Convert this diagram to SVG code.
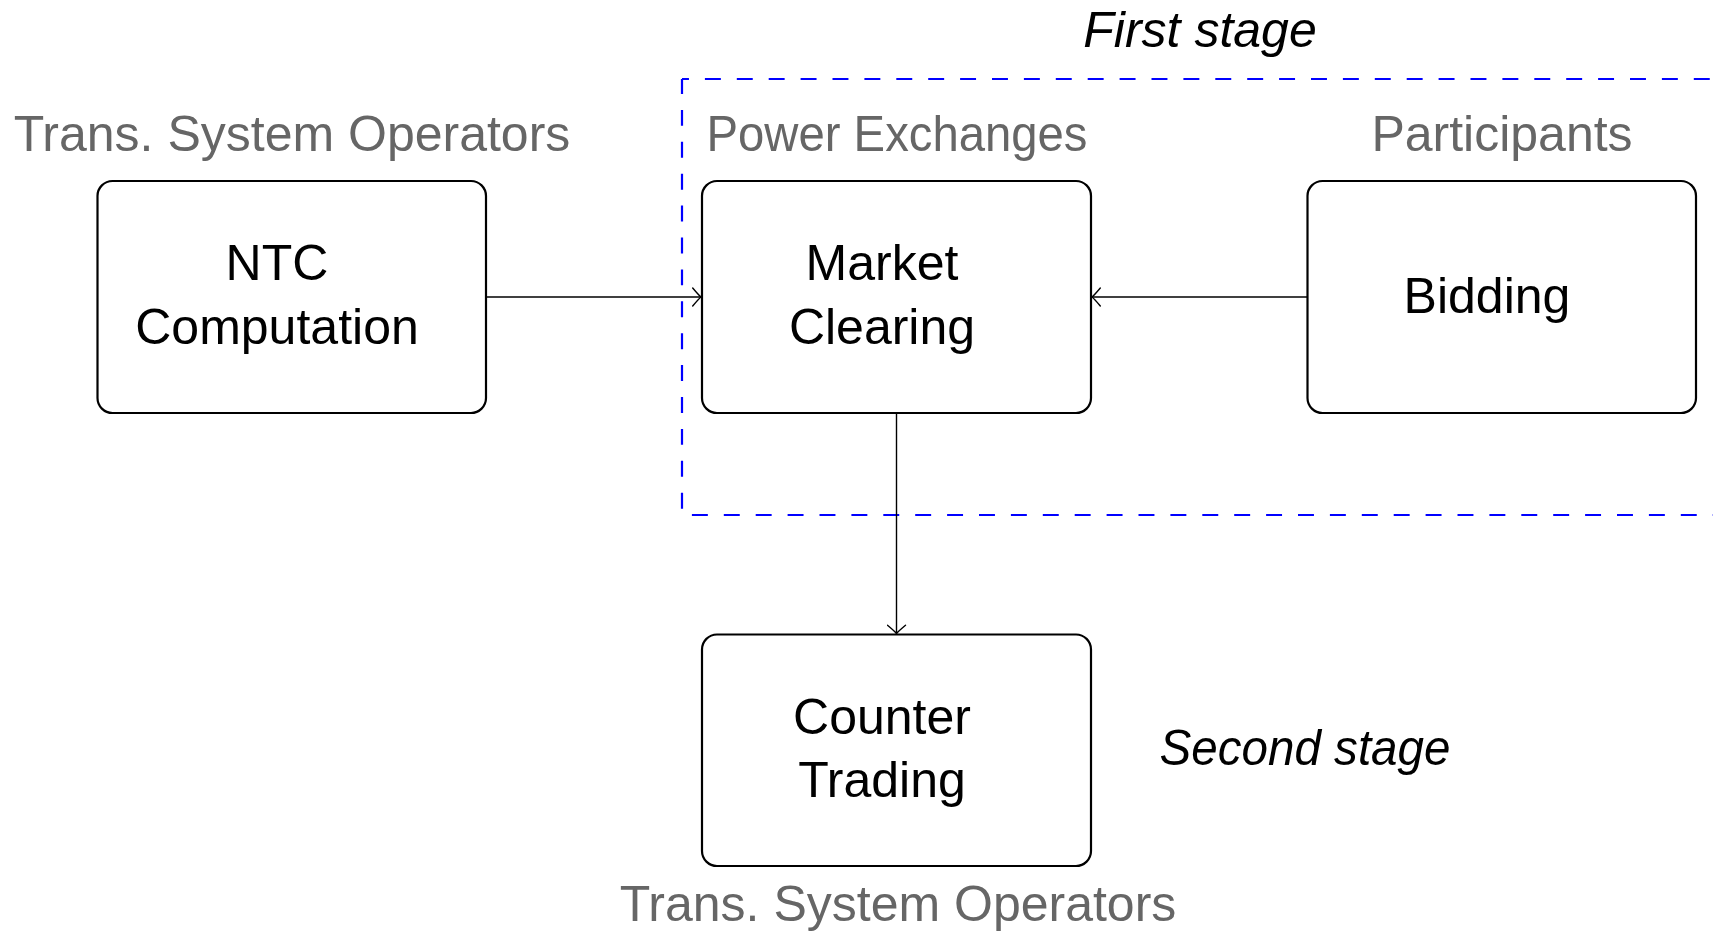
<svg xmlns="http://www.w3.org/2000/svg" width="1713" height="936" viewBox="0 0 1713 936">
  <style>
    .box { fill: #ffffff; stroke: #000000; stroke-width: 2.2; }
    .lbl { font-family: "Liberation Sans", Arial, sans-serif; font-size: 50px; fill: #000000; text-anchor: middle; }
    .role { font-family: "Liberation Sans", Arial, sans-serif; font-size: 50px; fill: #666666; text-anchor: middle; }
    .stage { font-family: "Liberation Sans", Arial, sans-serif; font-size: 50px; font-style: italic; fill: #000000; text-anchor: middle; }
    .edge { fill: none; stroke: #000000; stroke-width: 1.4; }
    .frame { fill: none; stroke: #0000ff; stroke-width: 2.2; stroke-dasharray: 15.95 15.95; }
  </style>
  <defs>
    <marker id="to" viewBox="-10 -10 12 20" refX="0" refY="0" markerWidth="12" markerHeight="20" markerUnits="userSpaceOnUse" orient="auto">
      <path d="M -8.3 -9 Q -2 -1.5 0 0 Q -2 1.5 -8.3 9" fill="none" stroke="#000000" stroke-width="1.4" stroke-linecap="round"/>
    </marker>
  </defs>

  <rect width="1713" height="936" fill="#ffffff"/>

  <!-- first stage frame (runs off the right edge) -->
  <g id="first-stage">
    <line class="frame" x1="682" y1="79" x2="1713" y2="79" stroke-dashoffset="9"/>
    <line class="frame" x1="682" y1="79" x2="682" y2="515" stroke-dashoffset="1"/>
    <line class="frame" x1="682" y1="515" x2="1713" y2="515" stroke-dashoffset="22"/>
    <text class="stage" x="1200" y="47">First stage</text>
  </g>

  <g id="second-stage">
    <text class="stage" x="1305" y="765" textLength="291" lengthAdjust="spacingAndGlyphs">Second stage</text>
  </g>

  <!-- connectors -->
  <g id="connectors">
    <line class="edge" x1="486" y1="297" x2="701" y2="297" marker-end="url(#to)"/>
    <line class="edge" x1="1307.5" y1="297" x2="1092" y2="297" marker-end="url(#to)"/>
    <line class="edge" x1="896.5" y1="413" x2="896.5" y2="633.5" marker-end="url(#to)"/>
  </g>

  <g id="ntc">
    <text class="role" x="292" y="151">Trans. System Operators</text>
    <rect class="box" x="97.5" y="181" width="388.5" height="232" rx="15" ry="15"/>
    <text class="lbl" x="277" y="280">NTC</text>
    <text class="lbl" x="277" y="344">Computation</text>
  </g>

  <g id="market">
    <text class="role" x="897" y="151" textLength="381" lengthAdjust="spacingAndGlyphs">Power Exchanges</text>
    <rect class="box" x="702" y="181" width="389" height="232" rx="15" ry="15"/>
    <text class="lbl" x="882" y="280">Market</text>
    <text class="lbl" x="882" y="344">Clearing</text>
  </g>

  <g id="bidding">
    <text class="role" x="1502" y="151">Participants</text>
    <rect class="box" x="1307.5" y="181" width="388.5" height="232" rx="15" ry="15"/>
    <text class="lbl" x="1487" y="313">Bidding</text>
  </g>

  <g id="counter">
    <rect class="box" x="702" y="634.5" width="389" height="231.5" rx="15" ry="15"/>
    <text class="lbl" x="882" y="734">Counter</text>
    <text class="lbl" x="882" y="797">Trading</text>
    <text class="role" x="898" y="921">Trans. System Operators</text>
  </g>
</svg>
